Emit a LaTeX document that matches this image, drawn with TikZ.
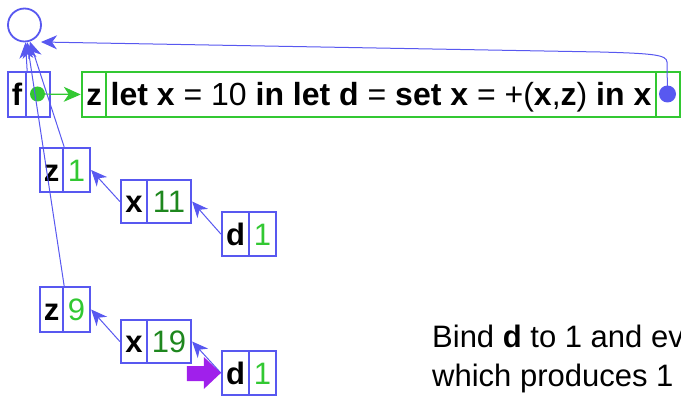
\documentclass[tikz,border=0pt]{standalone}
\usepackage{fontspec}
\setmainfont{Liberation Sans}
\usetikzlibrary{arrows.meta}
\definecolor{blu}{RGB}{88,88,240}
\definecolor{grn}{RGB}{50,200,50}
\definecolor{dgrn}{RGB}{30,135,30}
\definecolor{purp}{RGB}{160,32,235}
\tikzset{
  txt/.style={font=\fontsize{31}{37}\selectfont, inner sep=0pt, text height=23pt, text depth=1pt},
  bcell/.style={txt, draw=blu, line width=2.3pt, rectangle},
  gcell/.style={txt, draw=grn, line width=2.5pt, rectangle},
  link/.style={draw=blu, line width=1pt, -{Stealth[length=16pt,width=14pt,inset=5pt]}},
  glink/.style={draw=grn, line width=1.2pt, -{Stealth[length=17pt,width=15pt,inset=5pt]}},
}
\begin{document}
\begin{tikzpicture}[x=1pt,y=-1pt]
\useasboundingbox (0,0) rectangle (681,396);
% global env circle
\node[draw=blu, line width=1.8pt, circle, minimum size=33pt, inner sep=0pt] (circ) at (24.5,25) {};
% f frame
\node[bcell, minimum width=18pt, minimum height=45pt] (fn) at (17,94.5) {\textbf{f}};
\node[bcell, minimum width=24pt, minimum height=45pt] (fv) at (38,94.5) {};
\node[circle, fill=grn, minimum size=15pt, inner sep=0pt] (gdot) at (37.5,94) {};
% closure
\node[gcell, minimum width=24pt, minimum height=45pt] (gz) at (94,94.5) {\textbf{z}};
\node[gcell, minimum width=550pt, minimum height=45pt, font=\fontsize{32}{38}\selectfont] (gcode) at (381,94.5)
  {\textbf{let x} = 10 \textbf{in let d} = \textbf{set x} = +(\textbf{x},\textbf{z}) \textbf{in x}};
\node[gcell, minimum width=24pt, minimum height=45pt] (genv) at (668,94.5) {};
\node[circle, fill=blu, minimum size=17pt, inner sep=0pt] (bdot) at (667.5,94) {};
% first call frames
\node[bcell, minimum width=23pt, minimum height=44pt] (z1n) at (51.5,170) {\textbf{z}};
\node[bcell, minimum width=27pt, minimum height=44pt, text=grn] (z1v) at (76.5,170) {1};
\node[bcell, minimum width=26pt, minimum height=43pt] (x1n) at (134,201.5) {\textbf{x}};
\node[bcell, minimum width=44pt, minimum height=43pt, text=dgrn] (x1v) at (169,201.5) {11};
\node[bcell, minimum width=27pt, minimum height=44pt] (d1n) at (235.5,234) {\textbf{d}};
\node[bcell, minimum width=27pt, minimum height=44pt, text=grn] (d1v) at (262.5,234) {1};
% second call frames
\node[bcell, minimum width=23pt, minimum height=45pt] (z2n) at (51.5,309.5) {\textbf{z}};
\node[bcell, minimum width=27pt, minimum height=45pt, text=grn] (z2v) at (76.5,309.5) {9};
\node[bcell, minimum width=26pt, minimum height=43pt] (x2n) at (134,341.5) {\textbf{x}};
\node[bcell, minimum width=44pt, minimum height=43pt, text=dgrn] (x2v) at (169,341.5) {19};
\node[bcell, minimum width=27pt, minimum height=44pt] (d2n) at (235.5,373) {\textbf{d}};
\node[bcell, minimum width=27pt, minimum height=44pt, text=grn] (d2v) at (262.5,373) {1};
% connectors
\coordinate (ctip) at (41,42);
\draw[glink] (gdot.center) -- (gz.west);
\draw[link] (bdot.center) -- (667,62) .. controls (666.5,55) and (655,53.5) .. (600,52) -- (ctip);
\draw[link] (fn.north east) -- (circ);
\draw[link] (z1n.north east) -- (circ);
\draw[link] (z2n.north east) -- (circ);
\draw[link] (x1n.west) -- (z1v.east);
\draw[link] (d1n.west) -- (x1v.east);
\draw[link] (x2n.west) -- (z2v.east);
\draw[link] (d2n.west) -- (x2v.east);
% purple pointer
\fill[purp] (d2n.west) -- ++(-17,-16) -- ++(0,9) -- ++(-17,0) -- ++(0,15) -- ++(17,0) -- ++(0,8) -- cycle;
% text
\begin{scope}
\clip (0,0) rectangle (681,396);
\node[anchor=base west, inner sep=0pt, font=\fontsize{31}{37}\selectfont] (t1) at (432,347) {Bind \textbf{d} to 1 and ev};
\node[anchor=base west, inner sep=0pt, font=\fontsize{31}{37}\selectfont] (t2) at (432,386) {which produces 1};
\end{scope}
\end{tikzpicture}
\end{document}
